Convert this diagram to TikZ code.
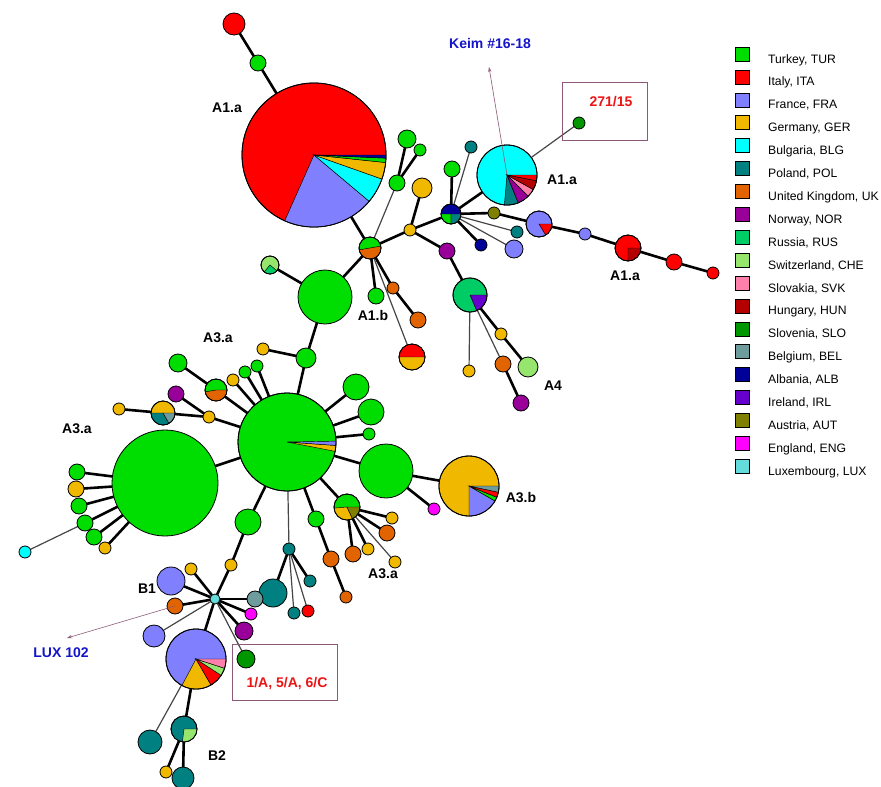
\documentclass[tikz,border=0pt]{standalone}
\usepackage{fontspec}
\setmainfont{Liberation Sans}
\usetikzlibrary{backgrounds,arrows.meta}
\definecolor{tur}{RGB}{0,221,0}
\definecolor{ita}{RGB}{255,0,0}
\definecolor{fra}{RGB}{128,128,255}
\definecolor{ger}{RGB}{240,185,0}
\definecolor{blg}{RGB}{0,255,255}
\definecolor{pol}{RGB}{0,128,128}
\definecolor{uk}{RGB}{225,100,0}
\definecolor{nor}{RGB}{153,0,153}
\definecolor{rus}{RGB}{0,204,102}
\definecolor{che}{RGB}{150,230,110}
\definecolor{svk}{RGB}{255,128,170}
\definecolor{hun}{RGB}{180,0,0}
\definecolor{slo}{RGB}{0,150,0}
\definecolor{bel}{RGB}{110,155,155}
\definecolor{alb}{RGB}{0,0,153}
\definecolor{irl}{RGB}{102,0,204}
\definecolor{aut}{RGB}{128,128,0}
\definecolor{eng}{RGB}{255,0,255}
\definecolor{lux}{RGB}{100,220,220}
\definecolor{edgegray}{RGB}{70,70,70}
\definecolor{mauve}{RGB}{140,90,120}
\definecolor{lblblue}{RGB}{20,20,200}
\definecolor{lblred}{RGB}{235,20,20}
\tikzset{
  nd/.style={circle, draw=black, line width=0.8pt, inner sep=0pt, outer sep=0pt},
  thk/.style={line width=2.6pt, black},
  thn/.style={line width=1.2pt, edgegray},
  lbl/.style={anchor=base, inner sep=0pt, font=\fontsize{14}{16}\selectfont\bfseries},
  legsq/.style={rectangle, draw=black, line width=0.6pt, minimum size=14pt, inner sep=0pt},
  legtx/.style={anchor=base west, inner sep=0pt, font=\fontsize{12.2}{14}\selectfont},
  ptr/.style={draw=mauve, line width=0.6pt, -{Stealth[open, length=5pt, width=3.5pt]}},
  boxline/.style={draw=mauve, line width=0.7pt}
}
\newcommand\cn[5]{\node[nd, minimum size={2*#4pt}, fill=#5] (#1) at (#2,-#3) {};}
\newcommand\pwedge[5]{\filldraw[fill=#5, draw=black, line width=0.45pt] (#1.center) -- ++(#3:#2) arc[start angle=#3, end angle=#4, radius=#2] -- cycle;}
\newcommand\pout[2]{\draw[line width=0.8pt] (#1.center) circle[radius=#2];}
\newcommand\ethick[2]{\draw[thk] (#1) -- (#2);}
\newcommand\ethin[2]{\draw[thn] (#1) -- (#2);}
\begin{document}
\begin{tikzpicture}[x=1pt,y=1pt]
\useasboundingbox (0,0) rectangle (881,-787);
% ---------- A1 region
\cn{ita1}{234}{24}{11}{ita}
\cn{tur1}{258}{63}{8}{tur}
\cn{aone}{314}{155}{72}{ita}
\cn{cen}{370}{248}{11}{tur}
\cn{g3}{397}{183}{8}{tur}
\cn{g4}{407}{139}{9}{tur}
\cn{g5}{420}{150}{6}{tur}
\cn{y1}{410}{230}{6}{ger}
\cn{y2}{422}{188}{10}{ger}
\cn{alb}{451}{214}{10}{alb}
\cn{p1}{447}{251}{8}{nor}
\cn{rus}{470}{295}{17}{rus}
\cn{y3}{469}{371}{6}{ger}
\cn{o3}{503}{364}{8}{uk}
\cn{p3}{521}{403}{8}{nor}
\cn{y4}{501}{334}{6}{ger}
\cn{che4}{528}{367}{10}{che}
\cn{g6}{452}{169}{8}{tur}
\cn{t6}{471}{147}{6}{pol}
\cn{blg}{507}{175}{30}{blg}
\cn{slo}{579}{123}{6}{slo}
\cn{aut1}{494}{213}{6}{aut}
\cn{fra1}{539}{224}{13}{fra}
\cn{fra2}{585}{234}{6}{fra}
\cn{ita2}{628}{248}{13}{ita}
\cn{ita3}{674}{262}{8}{ita}
\cn{ita4}{713}{273}{6}{ita}
\cn{t7}{517}{232}{6}{pol}
\cn{fra3}{514}{249}{9}{fra}
\cn{alb2}{481}{245}{6}{alb}
\cn{chep}{270}{265}{9}{che}
\cn{aoneb}{325}{297}{27}{tur}
\cn{g7}{376}{296}{8}{tur}
\cn{o1}{393}{288}{6}{uk}
\cn{o2}{418}{320}{8}{uk}
\cn{ry}{412}{357}{13}{ita}
\cn{g8}{306}{358}{10}{tur}
\cn{y5}{263}{349}{6}{ger}
% ---------- A3 region
\cn{hub}{287}{442}{49}{tur}
\cn{big}{165}{483}{53}{tur}
\cn{l1}{77}{472}{8}{tur}
\cn{l2}{76}{489}{8}{ger}
\cn{l3}{79}{506}{8}{tur}
\cn{l4}{85}{523}{8}{tur}
\cn{l5}{94}{537}{8}{tur}
\cn{l6}{105}{548}{6}{ger}
\cn{lux1}{25}{552}{6}{blg}
\cn{y6}{119}{409}{6}{ger}
\cn{ytp}{163}{413}{12}{ger}
\cn{p4}{176}{394}{8}{nor}
\cn{y7}{209}{417}{6}{ger}
\cn{g9}{178}{363}{9}{tur}
\cn{gop}{216}{390}{11}{tur}
\cn{y8}{233}{380}{6}{ger}
\cn{g10}{245}{372}{6}{tur}
\cn{g11}{257}{366}{6}{tur}
\cn{g12}{356}{387}{13}{tur}
\cn{g13}{371}{412}{13}{tur}
\cn{g14}{369}{434}{6}{tur}
\cn{g15}{386}{471}{27}{tur}
\cn{athb}{469}{486}{30}{ger}
\cn{eng1}{434}{509}{6}{eng}
\cn{gya}{347}{507}{13}{tur}
\cn{y9}{392}{518}{6}{ger}
\cn{o4}{387}{533}{8}{uk}
\cn{y10}{368}{549}{6}{ger}
\cn{o5}{353}{554}{8}{uk}
\cn{y11}{395}{562}{6}{ger}
\cn{g16}{316}{519}{8}{tur}
\cn{o6}{331}{559}{8}{uk}
\cn{o7}{346}{597}{6}{uk}
\cn{t8}{289}{549}{6}{pol}
\cn{t9}{273}{593}{14}{pol}
\cn{t10}{310}{581}{6}{pol}
\cn{t11}{294}{613}{6}{pol}
\cn{ita5}{308}{611}{6}{ita}
\cn{g17}{248}{522}{13}{tur}
\cn{y12}{231}{565}{6}{ger}
% ---------- B region
\cn{bel1}{255}{599}{8}{bel}
\cn{luxh}{215}{599}{5}{lux}
\cn{eng2}{251}{614}{6}{eng}
\cn{p5}{244}{631}{9}{nor}
\cn{slo2}{246}{659}{9}{slo}
\cn{fb1}{171}{581}{14}{fra}
\cn{y13}{191}{569}{6}{ger}
\cn{o8}{175}{606}{8}{uk}
\cn{fra4}{154}{636}{11}{fra}
\cn{fbig}{196}{659}{30}{fra}
\cn{b2}{184}{729}{13}{pol}
\cn{t12}{150}{742}{12}{pol}
\cn{y14}{166}{772}{6}{ger}
\cn{t13}{183}{778}{11}{pol}
% ---------- pie wedges
\pwedge{aone}{72}{246}{320}{fra}
\pwedge{aone}{72}{320}{340.5}{blg}
\pwedge{aone}{72}{340.5}{354}{ger}
\pwedge{aone}{72}{354}{357.5}{tur}
\pwedge{aone}{72}{357.5}{360}{alb}
\pout{aone}{72}
\pwedge{cen}{11}{190}{370}{uk}\pout{cen}{11}
\pwedge{chep}{9}{230}{320}{rus}\pout{chep}{9}
\pwedge{ry}{13}{180}{360}{ger}\pout{ry}{13}
\pwedge{rus}{17}{293}{360}{irl}\pout{rus}{17}
\pwedge{alb}{10}{180}{270}{tur}
\pwedge{alb}{10}{270}{360}{pol}\pout{alb}{10}
\pwedge{blg}{30}{265}{292}{pol}
\pwedge{blg}{30}{292}{315}{nor}
\pwedge{blg}{30}{315}{331}{svk}
\pwedge{blg}{30}{331}{349}{hun}
\pwedge{blg}{30}{349}{360}{ita}\pout{blg}{30}
\pwedge{fra1}{13}{301}{360}{ita}\pout{fra1}{13}
\pwedge{ita2}{13}{270}{360}{hun}\pout{ita2}{13}
\pwedge{hub}{49}{349}{356}{ger}
\pwedge{hub}{49}{356}{361}{fra}\pout{hub}{49}
\pwedge{ytp}{12}{180}{300}{pol}
\pwedge{ytp}{12}{300}{360}{bel}\pout{ytp}{12}
\pwedge{gop}{11}{190}{360}{uk}\pout{gop}{11}
\pwedge{gya}{13}{185}{295}{ger}
\pwedge{gya}{13}{295}{360}{aut}\pout{gya}{13}
\pwedge{athb}{30}{270}{330}{fra}
\pwedge{athb}{30}{330}{338}{tur}
\pwedge{athb}{30}{338}{348}{ita}
\pwedge{athb}{30}{348}{360}{bel}\pout{athb}{30}
\pwedge{fbig}{30}{242}{300}{ger}
\pwedge{fbig}{30}{300}{327}{ita}
\pwedge{fbig}{30}{327}{342}{che}
\pwedge{fbig}{30}{342}{360}{svk}\pout{fbig}{30}
\pwedge{b2}{13}{263}{360}{che}\pout{b2}{13}
% ---------- connectors
\begin{scope}[on background layer]
\ethick{ita1}{tur1}\ethick{tur1}{aone}\ethick{aone}{cen}
\ethick{cen}{aoneb}\ethick{aoneb}{chep}\ethick{aoneb}{g8}\ethick{g8}{hub}\ethick{g8}{y5}
\ethick{cen}{y1}\ethick{cen}{g7}\ethick{cen}{o1}\ethick{o1}{o2}
\ethick{g3}{g4}\ethick{g3}{g5}
\ethick{y1}{y2}\ethick{y1}{alb}\ethick{y1}{p1}\ethick{p1}{rus}
\ethick{rus}{y4}\ethick{y4}{che4}\ethick{o3}{p3}
\ethick{alb}{g6}\ethick{alb}{blg}\ethick{alb}{aut1}\ethick{aut1}{fra1}
\ethick{fra1}{fra2}\ethick{fra2}{ita2}\ethick{ita2}{ita3}\ethick{ita3}{ita4}
\ethick{alb}{alb2}
\ethin{cen}{g3}\ethin{cen}{ry}\ethin{rus}{y3}\ethin{rus}{o3}
\ethin{alb}{t6}\ethin{alb}{t7}\ethin{alb}{fra3}\ethin{blg}{slo}
\ethick{big}{hub}
\ethick{big}{l1}\ethick{big}{l2}\ethick{big}{l3}\ethick{big}{l4}\ethick{big}{l5}\ethick{big}{l6}
\ethin{l4}{lux1}
\ethick{y6}{ytp}\ethick{ytp}{y7}\ethick{p4}{y7}\ethick{y7}{hub}
\ethick{g9}{gop}\ethick{gop}{hub}\ethick{y8}{hub}\ethick{g10}{hub}\ethick{g11}{hub}
\ethick{hub}{g12}\ethick{hub}{g13}\ethick{hub}{g14}\ethick{hub}{g15}
\ethick{g15}{athb}\ethick{g15}{eng1}
\ethick{hub}{gya}\ethick{gya}{y9}\ethick{gya}{o4}\ethick{gya}{y10}\ethick{gya}{o5}
\ethin{gya}{y11}
\ethick{hub}{g16}\ethick{g16}{o6}\ethick{o6}{o7}
\ethin{hub}{t8}\ethick{t8}{t9}\ethick{t8}{t10}\ethin{t8}{t11}\ethin{t8}{ita5}
\ethick{hub}{g17}\ethick{g17}{y12}\ethick{y12}{luxh}
\ethick{luxh}{fb1}\ethick{luxh}{y13}\ethick{luxh}{o8}\ethick{luxh}{bel1}
\ethick{luxh}{eng2}\ethick{luxh}{p5}\ethick{luxh}{fbig}
\ethin{luxh}{fra4}\ethin{luxh}{slo2}
\ethick{fbig}{b2}\ethin{fbig}{t12}\ethick{b2}{y14}\ethick{b2}{t13}
\end{scope}
% ---------- labels
\node[lbl] (la1) at (227,-112) {A1.a};
\node[lbl] (la2) at (562,-184) {A1.a};
\node[lbl] (la3) at (625,-280) {A1.a};
\node[lbl] (la4) at (373,-320) {A1.b};
\node[lbl] (la5) at (553,-390) {A4};
\node[lbl] (la6) at (218,-342) {A3.a};
\node[lbl] (la7) at (77,-433) {A3.a};
\node[lbl] (la8) at (383,-578) {A3.a};
\node[lbl] (la9) at (521,-502) {A3.b};
\node[lbl] (la10) at (147,-593) {B1};
\node[lbl] (la11) at (217,-760) {B2};
\node[lbl, text=lblblue] (keim) at (490,-48) {Keim \#16-18};
\node[lbl, text=lblred] (n27) at (611,-106) {271/15};
\node[lbl, text=lblblue] (luxl) at (61,-657) {LUX 102};
\node[lbl, text=lblred] (n1a) at (287,-687) {1/A, 5/A, 6/C};
\draw[boxline] (562,-82) rectangle (647,-140);
\draw[boxline] (232,-644) rectangle (337,-700);
\coordinate (keimtip) at (489,-67);
\coordinate (luxtip) at (67,-638);
\draw[ptr] (blg.center) -- (keimtip);
\draw[ptr] (o8.center) -- (luxtip);
% ---------- legend
\foreach \c/\t [count=\i from 0] in {tur/{Turkey, TUR}, ita/{Italy, ITA}, fra/{France, FRA}, ger/{Germany, GER}, blg/{Bulgaria, BLG}, pol/{Poland, POL}, uk/{United Kingdom, UK}, nor/{Norway, NOR}, rus/{Russia, RUS}, che/{Switzerland, CHE}, svk/{Slovakia, SVK}, hun/{Hungary, HUN}, slo/{Slovenia, SLO}, bel/{Belgium, BEL}, alb/{Albania, ALB}, irl/{Ireland, IRL}, aut/{Austria, AUT}, eng/{England, ENG}, lux/{Luxembourg, LUX}}{
  \node[legsq, fill=\c] (lsq\i) at (742,{-54-22.9*\i}) {};
  \node[legtx] (ltx\i) at (768,{-63-22.9*\i}) {\t};
}
\end{tikzpicture}
\end{document}
